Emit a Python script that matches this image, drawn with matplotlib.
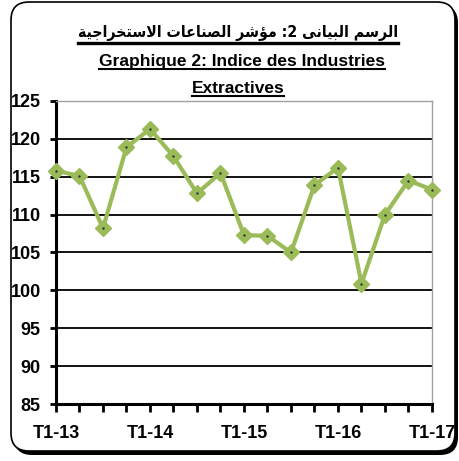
import matplotlib
matplotlib.use('Agg')
import matplotlib.pyplot as plt
from matplotlib.patches import FancyBboxPatch
from matplotlib.lines import Line2D
from matplotlib import font_manager

# ---------------- data ----------------
quarters = ['T1-13', 'T2-13', 'T3-13', 'T4-13',
            'T1-14', 'T2-14', 'T3-14', 'T4-14',
            'T1-15', 'T2-15', 'T3-15', 'T4-15',
            'T1-16', 'T2-16', 'T3-16', 'T4-16',
            'T1-17']
values = [115.8, 115.1, 108.2, 118.9,
          121.3, 117.7, 112.8, 115.5,
          107.3, 107.2, 105.0, 113.9,
          116.2, 100.9, 110.0, 114.5,
          113.3]
y_ticks = [85, 90, 95, 100, 105, 110, 115, 120, 125]
title_ar = 'الرسم البيانى 2: مؤشر الصناعات الاستخراجية'
title_fr_1 = 'Graphique 2: Indice des Industries'
title_fr_2 = 'Extractives'

# ---------------- arabic shaping (presentation forms, visual order) ----------------
FORMS = {
    'ا': ('\uFE8D', '\uFE8E', None, None),
    'ل': ('\uFEDD', '\uFEDE', '\uFEDF', '\uFEE0'),
    'ر': ('\uFEAD', '\uFEAE', None, None),
    'س': ('\uFEB1', '\uFEB2', '\uFEB3', '\uFEB4'),
    'م': ('\uFEE1', '\uFEE2', '\uFEE3', '\uFEE4'),
    'ب': ('\uFE8F', '\uFE90', '\uFE91', '\uFE92'),
    'ي': ('\uFEF1', '\uFEF2', '\uFEF3', '\uFEF4'),
    'ى': ('\uFEEF', '\uFEF0', None, None),
    'ن': ('\uFEE5', '\uFEE6', '\uFEE7', '\uFEE8'),
    'ؤ': ('\uFE85', '\uFE86', None, None),
    'ش': ('\uFEB5', '\uFEB6', '\uFEB7', '\uFEB8'),
    'ص': ('\uFEB9', '\uFEBA', '\uFEBB', '\uFEBC'),
    'ع': ('\uFEC9', '\uFECA', '\uFECB', '\uFECC'),
    'ت': ('\uFE95', '\uFE96', '\uFE97', '\uFE98'),
    'خ': ('\uFEA5', '\uFEA6', '\uFEA7', '\uFEA8'),
    'ج': ('\uFE9D', '\uFE9E', '\uFE9F', '\uFEA0'),
    'ة': ('\uFE93', '\uFE94', None, None),
}


def shape_arabic(text):
    chars = list(text)
    out = []
    i = 0
    while i < len(chars):
        c = chars[i]
        if c not in FORMS:
            out.append(c)
            i += 1
            continue
        prev = chars[i - 1] if i > 0 else None
        prev_j = prev in FORMS and FORMS[prev][2] is not None
        if c == 'ل' and i + 1 < len(chars) and chars[i + 1] == 'ا':
            out.append('\uFEFC' if prev_j else '\uFEFB')
            i += 2
            continue
        nxt = chars[i + 1] if i + 1 < len(chars) else None
        iso, fin, ini, med = FORMS[c]
        can_next = ini is not None and nxt in FORMS
        if prev_j and can_next:
            out.append(med)
        elif prev_j:
            out.append(fin)
        elif can_next:
            out.append(ini)
        else:
            out.append(iso)
        i += 1
    return ''.join(reversed(out))


# ---------------- fonts ----------------
names = {f.name for f in font_manager.fontManager.ttflist}
narrow = 'Liberation Sans Narrow' if 'Liberation Sans Narrow' in names else 'Liberation Sans'

W, H = 460, 461
fig = plt.figure(figsize=(W / 100, H / 100), dpi=100, facecolor='white')

# overlay in pixel coordinates
ov = fig.add_axes([0, 0, 1, 1], zorder=0)
ov.set_xlim(0, W)
ov.set_ylim(H, 0)
ov.axis('off')

# frame with shadow
shadow = FancyBboxPatch((14, 5), 444, 450, boxstyle='round,pad=0,rounding_size=18',
                        facecolor='black', edgecolor='black', lw=0)
ov.add_patch(shadow)
frame = FancyBboxPatch((11, 2), 444, 449, boxstyle='round,pad=0,rounding_size=18',
                       facecolor='white', edgecolor='black', lw=1.2)
ov.add_patch(frame)

# titles
t_ar = ov.text(238, 37, shape_arabic(title_ar), ha='center', va='baseline',
               fontsize=14, fontweight='bold', fontstretch='condensed',
               family=['DejaVu Sans'])
t_f1 = ov.text(242, 66, title_fr_1, ha='center', va='baseline',
               fontsize=12.5, fontweight='bold', family=[narrow, 'DejaVu Sans'])
t_f2 = ov.text(238, 93, title_fr_2, ha='center', va='baseline',
               fontsize=12.5, fontweight='bold', family=[narrow, 'DejaVu Sans'])

# ---------------- main axes ----------------
left, right, top, bottom = 56, 432, 101, 404
ax = fig.add_axes([left / W, (H - bottom) / H, (right - left) / W, (bottom - top) / H], zorder=1)
ax.patch.set_alpha(0)

x = list(range(len(quarters)))
ax.plot(x, values, color='#9BBB59', lw=3, marker='D', markersize=8.5,
        markerfacecolor='#9BBB59', markeredgecolor='#9BBB59', clip_on=False, zorder=3)
ax.plot(x, values, ls='none', marker='.', markersize=1.5, color='#333333',
        clip_on=False, zorder=4)

ax.set_xlim(0, len(quarters) - 1)
ax.set_ylim(y_ticks[0], y_ticks[-1])
ax.set_yticks(y_ticks)
ax.set_yticklabels([str(v) for v in y_ticks])
ax.set_xticks(x)
ax.set_xticklabels([q if i % 4 == 0 else '' for i, q in enumerate(quarters)])

ax.yaxis.grid(True, color='black', lw=1.3)
ax.set_axisbelow(True)
for s in ['top', 'right']:
    ax.spines[s].set_color('#a0a0a0')
    ax.spines[s].set_linewidth(1.0)
for s in ['left', 'bottom']:
    ax.spines[s].set_color('black')
    ax.spines[s].set_linewidth(2.2)

ax.tick_params(axis='y', direction='out', length=4, width=2, pad=7, labelsize=13)
ax.tick_params(axis='x', direction='out', length=6, width=2, pad=9, labelsize=13)
for lab in ax.get_xticklabels() + ax.get_yticklabels():
    lab.set_fontweight('bold')
    lab.set_family([narrow, 'DejaVu Sans'])

# ---------------- fit arabic title width, then underlines ----------------
fig.canvas.draw()
r = fig.canvas.get_renderer()
bb = t_ar.get_window_extent(r)
target_w = 322.0
t_ar.set_fontsize(t_ar.get_fontsize() * target_w / bb.width)
fig.canvas.draw()
r = fig.canvas.get_renderer()
inv = ov.transData.inverted()
for t, yline, lw in [(t_ar, 43, 2.4), (t_f1, 69.5, 1.5), (t_f2, 96.5, 1.5)]:
    bb = t.get_window_extent(r)
    (x0, _), (x1, _) = inv.transform([(bb.x0, bb.y0), (bb.x1, bb.y1)])
    ov.add_line(Line2D([x0, x1], [yline, yline], color='black', lw=lw))

fig.savefig('out.png', dpi=100, facecolor='white')
